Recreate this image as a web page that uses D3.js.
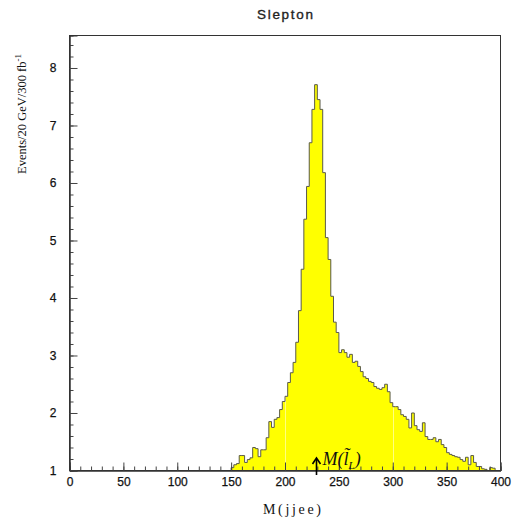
<!DOCTYPE html>
<html>
<head>
<meta charset="utf-8">
<script src="https://cdn.jsdelivr.net/npm/d3@7"></script>
<style>
  html, body { margin: 0; padding: 0; background: #fff; }
  svg { display: block; }
</style>
</head>
<body>
<svg id="chart" width="514" height="524"></svg>
<script>
// Histogram: first bin edge and bin width (GeV)
const firstEdge = 150;
const binWidth = 2.5;
// Events per bin, starting at firstEdge
const events = [
  1.05, 1.10, 1.12, 1.26, 1.26, 1.14, 1.19, 1.22, 1.40, 1.38,
  1.24, 1.36, 1.36, 1.57, 1.85, 1.75, 1.89, 1.92, 2.06, 2.20,
  2.29, 2.53, 2.70, 2.88, 3.23, 3.78, 4.50, 5.37, 5.94, 6.70,
  7.28, 7.71, 7.45, 7.28, 6.18, 5.05, 4.67, 4.03, 3.58, 3.40,
  3.05, 3.10, 3.05, 2.97, 3.02, 2.88, 2.90, 2.81, 2.72, 2.63,
  2.60, 2.55, 2.53, 2.46, 2.43, 2.41, 2.44, 2.50, 2.37, 2.18,
  2.11, 2.11, 2.06, 1.97, 1.94, 1.89, 1.74, 2.00, 1.78, 1.71,
  1.68, 1.83, 1.59, 1.54, 1.54, 1.57, 1.50, 1.54, 1.45, 1.40,
  1.31, 1.28, 1.26, 1.24, 1.23, 1.19, 1.16, 1.23, 1.10, 1.26,
  1.14, 1.07, 1.07, 1.03, 1.02, 1.00, 1.05, 1.04
];
// Axis ticks
const xMajorTicks = [0, 50, 100, 150, 200, 250, 300, 350, 400];
const xMinorTicks = d3.range(0, 401, 10);
const yMajorTicks = [1, 2, 3, 4, 5, 6, 7, 8];
const yMinorTicks = d3.range(1, 8.55, 0.2);
// Lighter lines showing through the filled area
const fillGridLines = [200, 300];
// Marker for the slepton mass
const markerMass = 229;

const svg = d3.select("#chart");

const x = d3.scaleLinear().domain([0, 400]).range([69.5, 500.5]);
const y = d3.scaleLinear().domain([1, 8.565]).range([470.5, 35.5]);

// Step points for the histogram
const pts = [[firstEdge, 1]];
events.forEach((v, i) => pts.push([firstEdge + i * binWidth, Math.max(v, 1)]));
pts.push([firstEdge + events.length * binWidth, 1]);

const area = d3.area()
  .curve(d3.curveStepAfter)
  .x(d => x(d[0]))
  .y0(y(1))
  .y1(d => y(d[1]));

const line = d3.line()
  .curve(d3.curveStepAfter)
  .x(d => x(d[0]))
  .y(d => y(d[1]));

svg.append("path")
  .datum(pts)
  .attr("d", area)
  .attr("fill", "#ffff00");

svg.selectAll("line.fillgrid")
  .data(fillGridLines)
  .enter().append("line")
  .attr("class", "fillgrid")
  .attr("x1", d => Math.round(x(d)) + 0.5)
  .attr("x2", d => Math.round(x(d)) + 0.5)
  .attr("y1", y(1))
  .attr("y2", y(8.565))
  .attr("stroke", "rgba(255,255,255,0.5)")
  .attr("stroke-width", 1);

svg.append("path")
  .datum(pts)
  .attr("d", line)
  .attr("fill", "none")
  .attr("stroke", "#5a5a4a")
  .attr("stroke-width", 1);

// Frame
svg.append("rect")
  .attr("x", x(0)).attr("y", y(8.565))
  .attr("width", x(400) - x(0)).attr("height", y(1) - y(8.565))
  .attr("fill", "none")
  .attr("stroke", "#333")
  .attr("stroke-width", 1);

// Axes (ticks pointing into the frame)
const fontTicks = "'Liberation Sans', Arial, sans-serif";

const gxMinor = svg.append("g")
  .attr("transform", `translate(0,${y(1)})`)
  .call(d3.axisBottom(x).tickValues(xMinorTicks).tickSize(-4).tickFormat(""));
const gx = svg.append("g")
  .attr("transform", `translate(0,${y(1)})`)
  .call(d3.axisBottom(x).tickValues(xMajorTicks).tickSize(-8).tickPadding(7));

const gyMinor = svg.append("g")
  .attr("transform", `translate(${x(0)},0)`)
  .call(d3.axisLeft(y).tickValues(yMinorTicks).tickSize(-4).tickFormat(""));
const gy = svg.append("g")
  .attr("transform", `translate(${x(0)},0)`)
  .call(d3.axisLeft(y).tickValues(yMajorTicks).tickSize(-8).tickPadding(13));

[gxMinor, gx, gyMinor, gy].forEach(g => {
  g.select(".domain").attr("stroke", "#333");
  g.selectAll(".tick line").attr("stroke", "#444");
  g.selectAll("text")
    .attr("fill", "#111")
    .attr("stroke", "#111")
    .attr("stroke-width", 0.25)
    .style("font-family", fontTicks)
    .style("font-size", "12px");
});

// Title
svg.append("text")
  .attr("x", 285).attr("y", 19)
  .attr("text-anchor", "middle")
  .attr("textLength", 56)
  .attr("lengthAdjust", "spacing")
  .style("font-family", fontTicks)
  .style("font-size", "13.5px")
  .attr("fill", "#222")
  .attr("stroke", "#222")
  .attr("stroke-width", 0.35)
  .text("Slepton");

// X axis title
svg.append("text")
  .attr("x", 292).attr("y", 514)
  .attr("text-anchor", "middle")
  .attr("textLength", 58)
  .attr("lengthAdjust", "spacing")
  .style("font-family", "'Liberation Serif', 'Times New Roman', serif")
  .style("font-size", "14px")
  .attr("fill", "#111")
  .text("M(jjee)");

// Y axis title
const yt = svg.append("text")
  .attr("transform", "translate(26,114) rotate(-90)")
  .attr("text-anchor", "middle")
  .style("font-family", "'Liberation Serif', 'Times New Roman', serif")
  .style("font-size", "12.5px")
  .attr("fill", "#111");
yt.append("tspan").text("Events/20 GeV/300 fb");
yt.append("tspan").attr("dy", -5).style("font-size", "9px").text("-1");

// Mass marker arrow and label
const ax = Math.round(x(markerMass)) + 0.5;
svg.append("line")
  .attr("x1", ax).attr("x2", ax)
  .attr("y1", 475).attr("y2", 459)
  .attr("stroke", "#000").attr("stroke-width", 1.6);
svg.append("path")
  .attr("d", `M${ax - 4},${464} L${ax},${458} L${ax + 4},${464}`)
  .attr("fill", "none")
  .attr("stroke", "#000").attr("stroke-width", 1.6);

const ml = svg.append("text")
  .attr("x", ax + 6).attr("y", 465)
  .style("font-family", "'Liberation Serif', 'Times New Roman', serif")
  .style("font-style", "italic")
  .style("font-size", "18px")
  .attr("fill", "#111");
ml.append("tspan").text("M(l\u0303");
ml.append("tspan").attr("dy", 4).style("font-size", "11px").text("L");
ml.append("tspan").attr("dy", -4).text(")");
</script>
</body>
</html>
